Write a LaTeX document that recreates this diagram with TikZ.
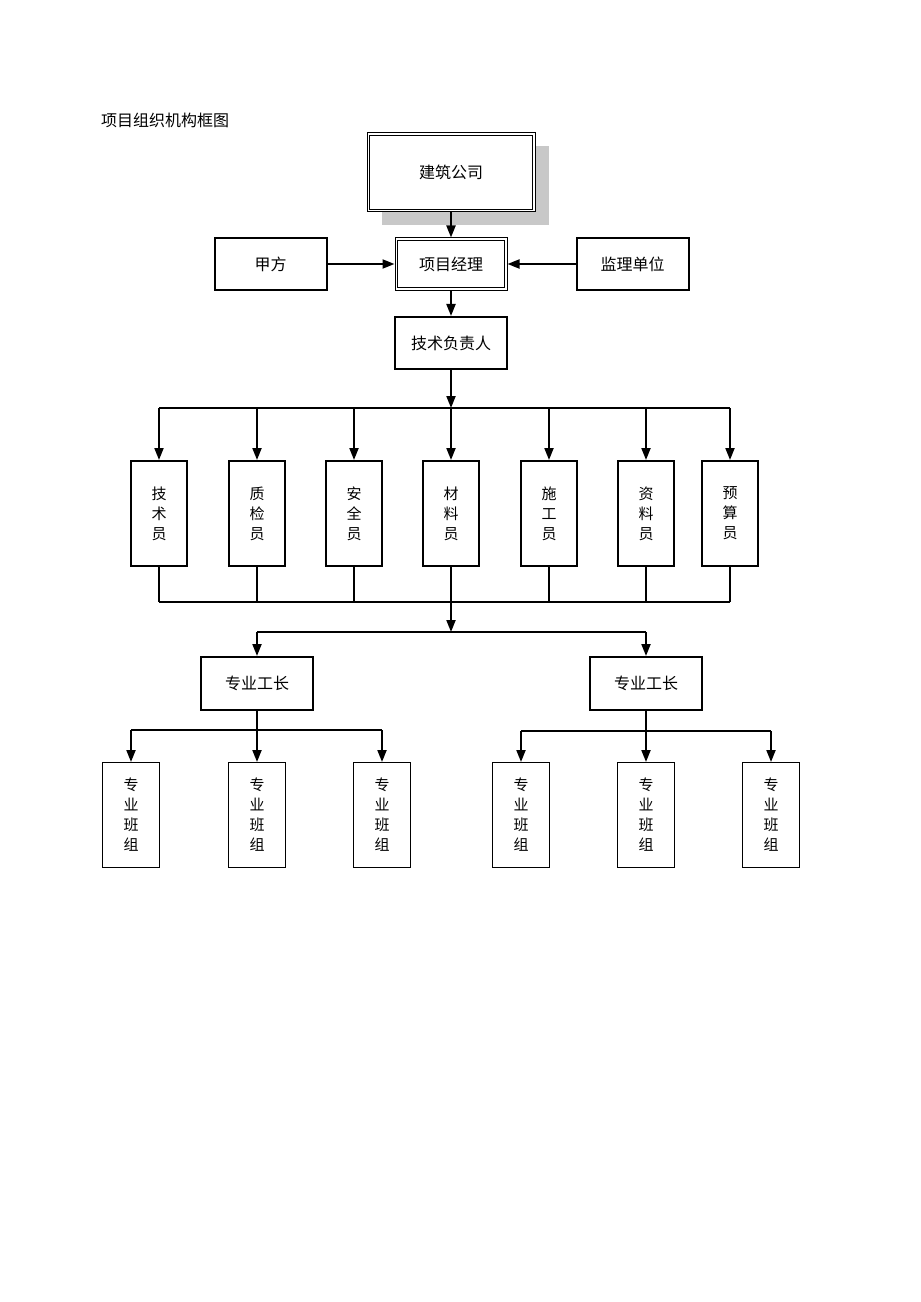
\documentclass[tikz,border=0pt]{standalone}
\usepackage{fontspec}
\setmainfont{Noto Sans CJK SC}
\usetikzlibrary{arrows.meta}
\definecolor{shadowgray}{RGB}{200,200,200}
\begin{document}
\begin{tikzpicture}[x=1bp,y=-1bp,
  box/.style={draw,line width=2bp,minimum width=112bp,minimum height=52bp,inner sep=0pt,font=\fontsize{16bp}{20bp}\selectfont},
  dbox/.style={draw,line width=1bp,minimum width=112bp,minimum height=52bp,inner sep=0pt,font=\fontsize{16bp}{20bp}\selectfont},
  vbox/.style={draw,line width=2bp,minimum width=56bp,minimum height=105bp,inner sep=0pt,align=center,font=\fontsize{15bp}{20bp}\selectfont},
  tbox/.style={vbox,line width=1bp,minimum width=57bp,minimum height=105bp},
  conn/.style={line width=2bp},
  inner/.style={line width=1.6bp},
  arr/.style={conn,-{Triangle[length=12bp,width=9bp]}}]
\useasboundingbox (0,0) rectangle (920,1302);
\node[anchor=west,font=\fontsize{16bp}{18bp}\selectfont,inner sep=0pt] (title) at (101,120) {项目组织机构框图};
% top company with shadow
\fill[shadowgray] (382,146) rectangle (549,225);
\node[dbox,fill=white,minimum width=168bp,minimum height=79bp] (gs) at (451,172.5) {建筑公司};
\draw[inner] ([shift={(3,3)}]gs.north west) rectangle ([shift={(-3,-3)}]gs.south east);
\node[box] (jf) at (270.5,264) {甲方};
\node[dbox] (pm) at (451,264) {项目经理};
\draw[inner] ([shift={(3,3)}]pm.north west) rectangle ([shift={(-3,-3)}]pm.south east);
\node[box] (jl) at (632.5,264) {监理单位};
\node[box] (js) at (451,343) {技术负责人};
\draw[arr] (gs.south) -- (pm.north);
\draw[arr] (jf.east) -- (pm.west);
\draw[arr] (jl.west) -- (pm.east);
\draw[arr] (pm.south) -- (js.north);
% staff
\node[vbox] (s1) at (159,513.5) {技\\术\\员};
\node[vbox] (s2) at (257,513.5) {质\\检\\员};
\node[vbox] (s3) at (354,513.5) {安\\全\\员};
\node[vbox] (s4) at (451,513.5) {材\\料\\员};
\node[vbox] (s5) at (549,513.5) {施\\工\\员};
\node[vbox] (s6) at (646,513.5) {资\\料\\员};
\node[vbox] (s7) at (730,513.5) {预\\算\\员};
\coordinate (b1) at (451,408);
\coordinate (b2) at (451,602);
\coordinate (b3) at (451,632);
\draw[arr] (js.south) -- (b1);
\draw[conn] (s1.north |- b1) -- (s7.north |- b1);
\foreach \s in {s1,s2,s3,s4,s5,s6,s7}{
  \draw[arr] (\s.north |- b1) -- (\s.north);
  \draw[conn] (\s.south) -- (\s.south |- b2);
}
\draw[conn] (s1.south |- b2) -- (s7.south |- b2);
\draw[arr] (b2) -- (b3);
% foremen
\node[box,minimum height=53bp] (g1) at (257,683.5) {专业工长};
\node[box,minimum height=53bp] (g2) at (646,683.5) {专业工长};
\draw[conn] (g1.north |- b3) -- (g2.north |- b3);
\draw[arr] (g1.north |- b3) -- (g1.north);
\draw[arr] (g2.north |- b3) -- (g2.north);
% teams
\node[tbox] (t1) at (131,815) {专\\业\\班\\组};
\node[tbox] (t2) at (257,815) {专\\业\\班\\组};
\node[tbox] (t3) at (382,815) {专\\业\\班\\组};
\node[tbox] (t4) at (521,815) {专\\业\\班\\组};
\node[tbox] (t5) at (646,815) {专\\业\\班\\组};
\node[tbox] (t6) at (771,815) {专\\业\\班\\组};
\coordinate (c1) at (257,730);
\coordinate (c2) at (646,731);
\draw[conn] (g1.south) -- (c1);
\draw[conn] (g2.south) -- (c2);
\draw[conn] (t1.north |- c1) -- (t3.north |- c1);
\draw[conn] (t4.north |- c2) -- (t6.north |- c2);
\foreach \t in {t1,t2,t3}{\draw[arr] (\t.north |- c1) -- (\t.north);}
\foreach \t in {t4,t5,t6}{\draw[arr] (\t.north |- c2) -- (\t.north);}
\end{tikzpicture}
\end{document}
